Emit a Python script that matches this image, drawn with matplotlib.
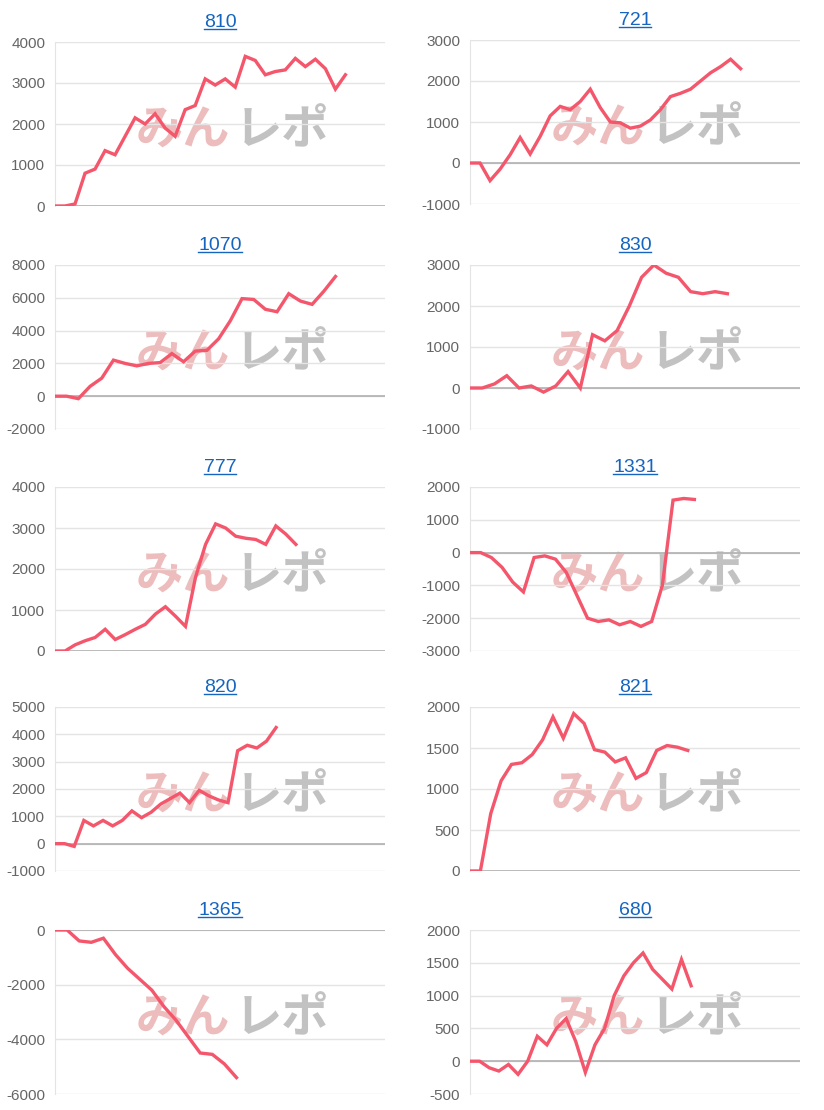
import numpy as np
import matplotlib.pyplot as plt

plt.rcParams['font.family'] = ['Liberation Sans', 'DejaVu Sans']
plt.rcParams['axes.unicode_minus'] = False

titles = ['810', '721', '1070', '830', '777', '1331', '820', '821', '1365', '680']

s810 = [0, 0, 50, 800, 900, 1350, 1250, 1700, 2150, 2000, 2250, 1900, 1700, 2350, 2450,
        3100, 2950, 3100, 2900, 3650, 3550, 3200, 3280, 3320, 3600, 3400, 3580, 3350, 2850, 3200]
s721 = [0, 0, -430, -150, 200, 620, 220, 650, 1150, 1380, 1300, 1500, 1800, 1350, 1000,
        980, 850, 900, 1050, 1300, 1620, 1700, 1800, 2000, 2200, 2350, 2530, 2300]
s1070 = [0, 0, -150, 600, 1100, 2200, 2000, 1850, 2000, 2050, 2600, 2100, 2750, 2800, 3500,
         4600, 5950, 5900, 5300, 5150, 6250, 5800, 5600, 6400, 7300]
s830 = [0, 0, 100, 300, 0, 50, -100, 50, 400, 0, 1300, 1150, 1400, 2000, 2700, 3000,
        2800, 2700, 2350, 2300, 2350, 2300]
s777 = [0, 0, 150, 250, 330, 530, 280, 400, 530, 650, 900, 1080, 850, 600, 1800, 2600,
        3100, 3000, 2800, 2750, 2720, 2600, 3050, 2850, 2600]
s1331 = [0, 0, -150, -450, -900, -1200, -150, -100, -200, -600, -1300, -2000, -2100, -2050,
         -2200, -2100, -2250, -2100, -1000, 1600, 1650, 1620]
s820 = [0, 0, -100, 850, 650, 850, 650, 850, 1200, 950, 1150, 1450, 1650, 1850, 1500, 1950,
        1750, 1600, 1500, 3400, 3600, 3500, 3750, 4250]
s821 = [0, 0, 700, 1100, 1300, 1320, 1420, 1600, 1880, 1620, 1920, 1800, 1480, 1450, 1330,
        1380, 1130, 1200, 1470, 1530, 1510, 1470]
s1365 = [0, 0, -400, -450, -300, -900, -1400, -1800, -2200, -2800, -3300, -3900, -4500,
         -4550, -4900, -5400]
s680 = [0, 0, -100, -150, -50, -200, 0, 380, 250, 500, 650, 300, -170, 250, 500, 1000,
        1300, 1500, 1650, 1400, 1250, 1100, 1550, 1150]
series = [s810, s721, s1070, s830, s777, s1331, s820, s821, s1365, s680]

y_ticks = [np.arange(0, 4001, 1000), np.arange(-1000, 3001, 1000), np.arange(-2000, 8001, 2000),
           np.arange(-1000, 3001, 1000), np.arange(0, 4001, 1000), np.arange(-3000, 2001, 1000),
           np.arange(-1000, 5001, 1000), np.arange(0, 2001, 500), np.arange(-6000, 1, 2000),
           np.arange(-500, 2001, 500)]
# fraction of axis width reached by the last point
end_frac = [0.88, 0.82, 0.85, 0.78, 0.73, 0.68, 0.67, 0.66, 0.55, 0.67]

W, H = 824, 1110
fig = plt.figure(figsize=(W / 100, H / 100), dpi=100)
col_x = [55, 470]
ax_w = 330
row_top = [42, 265, 487, 707, 930]
ax_h = 164

for i, (title, vals) in enumerate(zip(titles, series)):
    r, c = divmod(i, 2)
    top = row_top[r] - (2 if c == 1 and r == 0 else 0)
    ax = fig.add_axes([col_x[c] / W, 1 - (top + ax_h) / H, ax_w / W, ax_h / H])
    n = len(vals)
    ax.plot(np.arange(n), vals, color='#f4566c', lw=2.4, solid_joinstyle='miter', zorder=3)
    ax.set_xlim(0, (n - 1) / end_frac[i])
    t = y_ticks[i]
    ax.set_ylim(t[0], t[-1])
    ax.set_yticks(t)
    ax.set_xticks([])
    ax.grid(axis='y', color='#e4e4e4', lw=1)
    ax.axhline(0, color='#b0b0b0', lw=1.2, zorder=2)
    for s in ['top', 'right', 'bottom']:
        ax.spines[s].set_visible(False)
    ax.spines['left'].set_color('#e4e4e4')
    ax.tick_params(axis='y', length=0, labelsize=11, labelcolor='#666666', pad=7)
    ax.set_title(title, fontsize=14, color='#1565c0', pad=11)
    ax.text(0.53, 0.46, 'みん', transform=ax.transAxes, ha='right', va='center',
            fontsize=34, fontweight='bold', style='italic', color='#e8a6a6', alpha=0.75,
            family=['Noto Sans CJK JP'], zorder=1)
    ax.text(0.545, 0.46, 'レポ', transform=ax.transAxes, ha='left', va='center',
            fontsize=34, fontweight='bold', style='italic', color='#b8b8b8', alpha=0.85,
            family=['Noto Sans CJK JP'], zorder=1)

fig.canvas.draw()
for ax in fig.axes:
    bb = ax.title.get_window_extent()
    y = bb.y0 + 2
    fig.add_artist(plt.Line2D([bb.x0 / W, bb.x1 / W], [y / H, y / H], color='#1565c0', lw=1))

fig.savefig('out.png', dpi=100)
